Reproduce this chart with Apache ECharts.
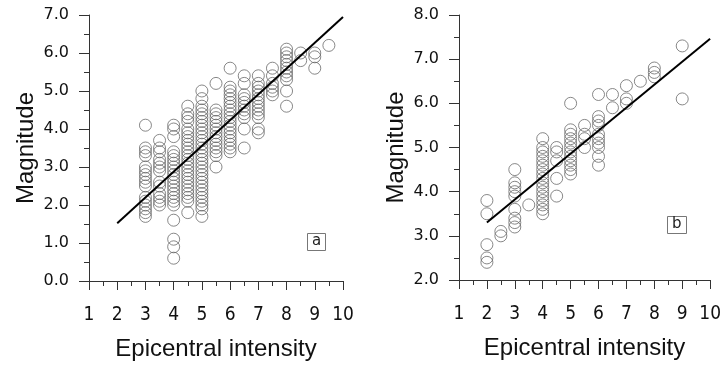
<!DOCTYPE html>
<html><head><meta charset="utf-8">
<script src="https://cdn.jsdelivr.net/npm/echarts@6/dist/echarts.min.js"></script>
<style>html,body{margin:0;padding:0;background:#fff}#c{width:724px;height:367px}</style>
</head><body><div id="c"></div>
<script>
// Panel a
const aX = [3, 3.5, 4, 4.5, 5, 5.5, 6, 6.5, 7, 7.5, 8, 8.5, 9, 9.5];
const aY = [
  [4.1, 3.5, 3.4, 3.3, 3.0, 2.9, 2.8, 2.7, 2.6, 2.5, 2.2, 2.1, 2.0, 1.9, 1.8, 1.7],
  [3.7, 3.5, 3.4, 3.2, 3.1, 3.0, 2.9, 2.6, 2.5, 2.3, 2.2, 2.1, 2.0],
  [4.1, 4.0, 3.8, 3.4, 3.3, 3.2, 3.1, 3.0, 2.9, 2.8, 2.7, 2.6, 2.5, 2.4, 2.3, 2.2, 2.1, 2.0, 1.6, 1.1, 0.9, 0.6],
  [4.6, 4.4, 4.3, 4.2, 4.0, 3.9, 3.8, 3.7, 3.6, 3.5, 3.4, 3.3, 3.2, 3.1, 3.0, 2.9, 2.8, 2.7, 2.6, 2.5, 2.4, 2.3, 2.2, 2.1, 1.8],
  [5.0, 4.8, 4.6, 4.5, 4.4, 4.3, 4.2, 4.1, 4.0, 3.9, 3.8, 3.7, 3.6, 3.5, 3.4, 3.3, 3.2, 3.1, 3.0, 2.9, 2.8, 2.7, 2.6, 2.5, 2.4, 2.3, 2.2, 2.1, 2.0, 1.9, 1.7],
  [5.2, 4.5, 4.4, 4.3, 4.2, 4.1, 4.0, 3.9, 3.8, 3.7, 3.6, 3.5, 3.4, 3.3, 3.0],
  [5.6, 5.1, 5.0, 4.9, 4.8, 4.7, 4.6, 4.5, 4.4, 4.3, 4.2, 4.1, 4.0, 3.9, 3.8, 3.7, 3.6, 3.5, 3.4],
  [5.4, 5.2, 4.9, 4.8, 4.7, 4.6, 4.5, 4.4, 4.3, 4.0, 3.5],
  [5.4, 5.2, 5.1, 5.0, 4.9, 4.8, 4.7, 4.6, 4.5, 4.4, 4.3, 4.0, 3.9],
  [5.6, 5.4, 5.2, 5.1, 5.0, 4.9],
  [6.1, 6.0, 5.9, 5.8, 5.7, 5.6, 5.5, 5.4, 5.3, 5.0, 4.6],
  [6.0, 5.8],
  [6.0, 5.9, 5.6],
  [6.2]
];
const aFitX = [2, 10];
const aFitY = [1.52, 6.95];

// Panel b
const bX = [2, 2.5, 3, 3.5, 4, 4.5, 5, 5.5, 6, 6.5, 7, 7.5, 8, 9];
const bY = [
  [3.8, 3.5, 2.8, 2.5, 2.4],
  [3.1, 3.0],
  [4.5, 4.2, 4.1, 4.0, 3.9, 3.6, 3.4, 3.3, 3.2],
  [3.7],
  [5.2, 5.0, 4.9, 4.8, 4.7, 4.6, 4.5, 4.4, 4.3, 4.2, 4.1, 4.0, 3.9, 3.8, 3.7, 3.6, 3.5],
  [5.0, 4.9, 4.7, 4.3, 3.9],
  [6.0, 5.4, 5.3, 5.2, 5.1, 5.0, 4.9, 4.8, 4.7, 4.6, 4.5, 4.4],
  [5.5, 5.3, 5.2, 5.0],
  [6.2, 5.7, 5.6, 5.5, 5.3, 5.2, 5.1, 5.0, 4.8, 4.6],
  [6.2, 5.9],
  [6.4, 6.1, 6.0],
  [6.5],
  [6.8, 6.7, 6.6],
  [7.3, 6.1]
];
const bFitX = [2, 10];
const bFitY = [3.3, 7.46];

const xTicks = [1, 2, 3, 4, 5, 6, 7, 8, 9, 10];
const panelLabels = ['a', 'b'];

function pts(xs, ys) {
  const out = [];
  xs.forEach((x, i) => ys[i].forEach(y => out.push([x, y])));
  return out;
}
function line(xs, ys) { return xs.map((x, i) => [x, ys[i]]); }

const axisColor = '#333';
function xAxis(gi) {
  return {
    gridIndex: gi, type: 'value', min: xTicks[0], max: xTicks[xTicks.length - 1], interval: 1,
    name: 'Epicentral intensity', nameLocation: 'middle', nameGap: 56,
    nameTextStyle: { fontFamily: 'Liberation Sans', fontSize: 24, color: '#111' },
    axisLine: { show: true, onZero: false, lineStyle: { color: axisColor, width: 1 } },
    axisTick: { show: true, length: 9, inside: false, lineStyle: { color: axisColor } },
    minorTick: { show: true, splitNumber: 2, length: 5, lineStyle: { color: axisColor } },
    splitLine: { show: false },
    axisLabel: { margin: 25, fontFamily: 'Liberation Sans Narrow, DejaVu Sans Condensed, sans-serif', fontSize: 19, color: '#111' }
  };
}
function yAxis(gi, min, max) {
  return {
    gridIndex: gi, type: 'value', min: min, max: max, interval: 1,
    name: 'Magnitude', nameLocation: 'middle', nameGap: 51, nameRotate: 90,
    nameTextStyle: { fontFamily: 'Liberation Sans', fontSize: 24, color: '#111' },
    axisLine: { show: true, onZero: false, lineStyle: { color: axisColor, width: 1 } },
    axisTick: { show: true, length: 10, inside: false, lineStyle: { color: axisColor } },
    minorTick: { show: true, splitNumber: 2, length: 5, lineStyle: { color: axisColor } },
    splitLine: { show: false },
    axisLabel: { margin: 20, fontFamily: 'DejaVu Sans', fontSize: 16, color: '#111', formatter: v => v.toFixed(1) }
  };
}
const scatterStyle = { color: 'rgba(0,0,0,0)', borderColor: '#6a6a6a', borderWidth: 1 };
function scatter(gi, data) {
  return { type: 'scatter', xAxisIndex: gi, yAxisIndex: gi, data: data, symbol: 'circle', symbolSize: 12,
    itemStyle: scatterStyle, silent: true, animation: false };
}
function fit(gi, data) {
  return { type: 'line', xAxisIndex: gi, yAxisIndex: gi, data: data, showSymbol: false, symbol: 'none',
    lineStyle: { color: '#000', width: 2 }, silent: true, animation: false, z: 5 };
}
function boxTitle(text, left, top) {
  return { text: text, left: left, top: top, padding: [1, 5, 2, 5], borderColor: '#777', borderWidth: 1,
    textStyle: { fontFamily: 'DejaVu Sans', fontSize: 15, fontWeight: 'normal', color: '#222' } };
}

const chart = echarts.init(document.getElementById('c'), null, { renderer: 'canvas' });
chart.setOption({
  backgroundColor: '#fff',
  animation: false,
  title: [boxTitle(panelLabels[0], 307, 233), boxTitle(panelLabels[1], 667, 216)],
  grid: [
    { left: 89, right: 381, top: 15, bottom: 86 },
    { left: 459, right: 11, top: 15, bottom: 87 }
  ],
  xAxis: [xAxis(0), xAxis(1)],
  yAxis: [yAxis(0, 0, 7), yAxis(1, 2, 8)],
  series: [
    scatter(0, pts(aX, aY)), fit(0, line(aFitX, aFitY)),
    scatter(1, pts(bX, bY)), fit(1, line(bFitX, bFitY))
  ]
});
</script></body></html>
